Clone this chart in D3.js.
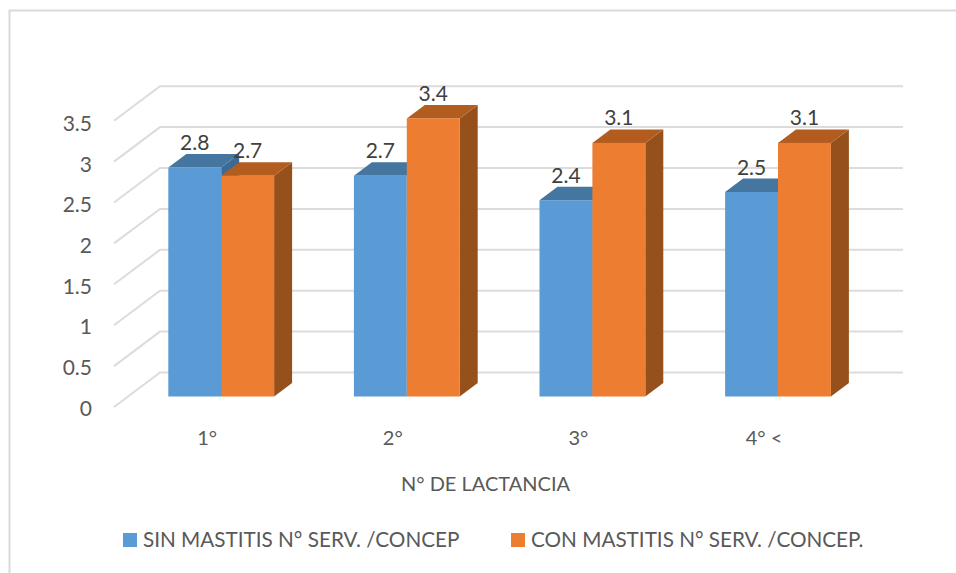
<!DOCTYPE html>
<html>
<head>
<meta charset="utf-8">
<script src="https://cdn.jsdelivr.net/npm/d3@7"></script>
<style>
    html, body { margin: 0; padding: 0; background: #fff; }
    svg { display: block; }
    text { font-family: Lato, "Open Sans", sans-serif; }
</style>
</head>
<body>
<div id="chart"></div>
<script>
const categories = ["1°", "2°", "3°", "4° <"];
const sinMastitis = [2.8, 2.7, 2.4, 2.5];
const conMastitis = [2.7, 3.4, 3.1, 3.1];
const yTicks = [0, 0.5, 1, 1.5, 2, 2.5, 3, 3.5];
const seriesNames = ["SIN MASTITIS N° SERV. /CONCEP", "CON MASTITIS N° SERV. /CONCEP."];
const xTitle = "N° DE LACTANCIA";

const seriesColors = [
    { front: "#5b9bd5", top: "#44769f", side: "#3b6a94" },
    { front: "#ed7d31", top: "#b35c20", side: "#95501b" }
];

const width = 956, height = 573;

// floor and wall of the fake 3D box: the wall sits up and to the right of the front edge
const wall = { dx: 46, dy: -34.5 };
const barNear = 14 / 46, barFar = 32 / 46;

const svg = d3.select("#chart").append("svg")
    .attr("width", width)
    .attr("height", height);

// chart frame, only the top and left edges are inside the page
svg.append("path")
    .attr("d", "M9.5,573V10.5H956")
    .attr("fill", "none")
    .attr("stroke", "#d9d9d9")
    .attr("stroke-width", 2);

const x = d3.scaleBand()
    .domain(categories)
    .range([114.4, 856.8])
    .paddingInner(0.43)
    .paddingOuter(0.215);

const xInner = d3.scaleBand()
    .domain([0, 1])
    .range([0, x.bandwidth()]);

const y = d3.scaleLinear()
    .domain([0, 3.5])
    .range([407, 120.7]);

// the tick labels are spaced a little tighter than the gridlines
const yLabels = d3.scaleLinear()
    .domain([0, 3.5])
    .range([408, 123.5]);

// wall gridlines plus the slanted part running down the side wall
svg.append("g").selectAll("path")
    .data(yTicks)
    .enter().append("path")
    .attr("d", d => "M114," + y(d) + "L" + (114 + wall.dx) + "," + (y(d) + wall.dy) + "H" + (857 + wall.dx))
    .attr("fill", "none")
    .attr("stroke", "#dcdcdc")
    .attr("stroke-width", 2);

// Y axis, labels only
const yAxis = svg.append("g")
    .attr("transform", "translate(114,0)")
    .call(d3.axisLeft(yLabels).tickValues(yTicks).tickFormat(d => d).tickSize(0).tickPadding(22));
yAxis.select(".domain").remove();
yAxis.selectAll("text")
    .style("font-size", "21px")
    .style("fill", "#595959")
    .attr("dy", "0.34em");

// X axis, labels only
const xAxis = svg.append("g")
    .attr("transform", "translate(0,407)")
    .call(d3.axisBottom(x).tickSize(0).tickPadding(24));
xAxis.select(".domain").remove();
xAxis.selectAll("text")
    .style("font-size", "20px")
    .style("fill", "#595959");

// one box per value, blue first so the orange box covers its side face
const bars = [];
categories.forEach((c, i) => {
    bars.push({ cat: c, s: 0, value: sinMastitis[i] });
    bars.push({ cat: c, s: 1, value: conMastitis[i] });
});

const near = { dx: wall.dx * barNear, dy: wall.dy * barNear };
const depth = { dx: wall.dx * (barFar - barNear), dy: wall.dy * (barFar - barNear) };

const boxes = svg.append("g").selectAll("g")
    .data(bars)
    .enter().append("g")
    .attr("transform", d => "translate(" + (x(d.cat) + xInner(d.s) + near.dx) + "," + near.dy + ")");

boxes.append("path")
    .attr("fill", d => seriesColors[d.s].side)
    .attr("d", d => {
        const w = xInner.bandwidth();
        return "M" + w + "," + y(d.value) + "l" + depth.dx + "," + depth.dy
            + "V" + (y(0) + depth.dy) + "L" + w + "," + y(0) + "Z";
    });

boxes.append("path")
    .attr("fill", d => seriesColors[d.s].top)
    .attr("d", d => {
        const w = xInner.bandwidth();
        return "M0," + y(d.value) + "l" + depth.dx + "," + depth.dy
            + "h" + w + "l" + (-depth.dx) + "," + (-depth.dy) + "Z";
    });

boxes.append("rect")
    .attr("x", 0)
    .attr("y", d => y(d.value))
    .attr("width", xInner.bandwidth())
    .attr("height", d => y(0) - y(d.value))
    .attr("fill", d => seriesColors[d.s].front);

// value labels go last so they stay above every box
svg.append("g").selectAll("text")
    .data(bars)
    .enter().append("text")
    .attr("x", d => x(d.cat) + xInner(d.s) + near.dx + xInner.bandwidth() / 2)
    .attr("y", d => y(d.value) + near.dy - 17.5)
    .attr("text-anchor", "middle")
    .style("font-size", "21px")
    .style("fill", "#404040")
    .text(d => d.value);

svg.append("text")
    .attr("x", 485.5)
    .attr("y", 491)
    .attr("text-anchor", "middle")
    .style("font-size", "20px")
    .style("fill", "#595959")
    .text(xTitle);

// legend
const legendX = [123, 511];
const legend = svg.append("g").selectAll("g")
    .data(seriesNames)
    .enter().append("g")
    .attr("transform", (d, i) => "translate(" + legendX[i] + ",533)");

legend.append("rect")
    .attr("width", 14)
    .attr("height", 14)
    .attr("fill", (d, i) => seriesColors[i].front);

legend.append("text")
    .attr("x", 20)
    .attr("y", 13.5)
    .style("font-size", "20.7px")
    .style("fill", "#595959")
    .text(d => d);
</script>
</body>
</html>
